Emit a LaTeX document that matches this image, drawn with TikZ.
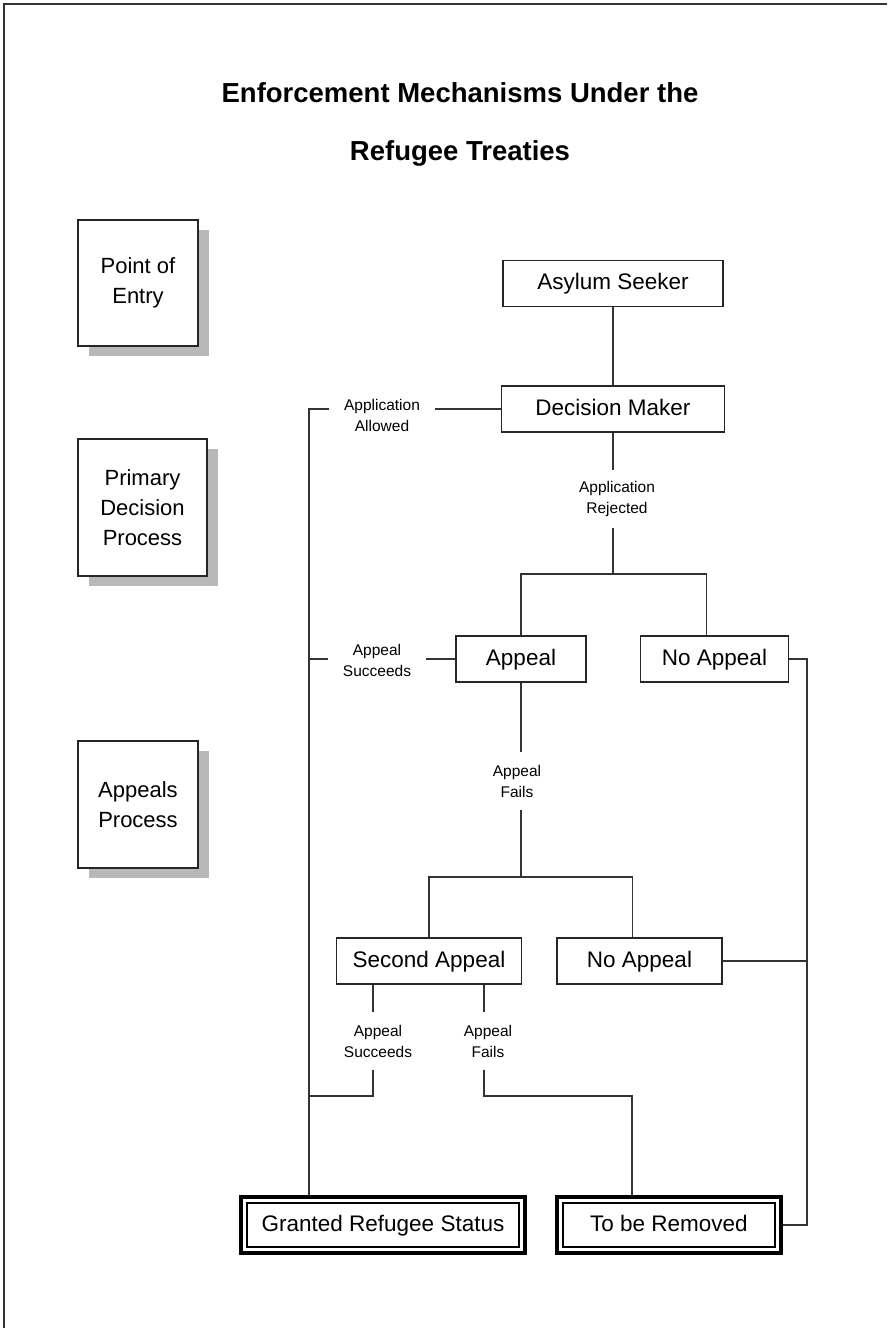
\documentclass[tikz,border=0pt]{standalone}
\usepackage{fontspec}
\setmainfont{Liberation Sans}
\usetikzlibrary{positioning,shadows}
\tikzset{x=1pt, y=-1pt,
  stage/.style={draw=black!85, line width=1.5pt, fill=white, align=center, inner sep=0pt,
    minimum width=120pt, minimum height=126pt, font=\fontsize{22}{30}\selectfont,
    drop shadow={shadow xshift=11pt, shadow yshift=-10pt, fill=black!28, opacity=1}},
  actor/.style={draw=black!85, line width=1.5pt, inner sep=0pt, minimum height=46pt,
    text height=16.5pt, text depth=4.5pt, font=\fontsize{22.5}{27}\selectfont},
  outcome/.style={draw=black, line width=4.5pt, inner sep=0pt, minimum height=56pt,
    text height=16.5pt, text depth=4.5pt, font=\fontsize{22.5}{27}\selectfont,
    path picture={\draw[line width=1.3pt] ([xshift=6pt,yshift=-6pt]path picture bounding box.north west)
      rectangle ([xshift=-6pt,yshift=6pt]path picture bounding box.south east);}},
  branch/.style={align=center, inner xsep=15pt, inner ysep=0pt, minimum height=57pt,
    font=\fontsize{15.5}{21}\selectfont},
  link/.style={draw=black!80, line width=1.6pt}}

\begin{document}
\begin{tikzpicture}
				\useasboundingbox (0,0) rectangle (887,1328);
				\draw[line width=2pt, black!80] (4,1328) -- (4,4) -- (887,4);

				% title
				\node[font=\bfseries\fontsize{27.5}{58}\selectfont, align=center] (title) at (460,124)
					{Enforcement Mechanisms Under the\\Refugee Treaties};

				% stages on the left
				\node[stage] (entry) at (138,283) {Point of\\Entry};
				\node[stage, minimum width=129pt, minimum height=137pt] (primary) at (142.5,507.5) {Primary\\Decision\\Process};
				\node[stage, minimum height=127pt] (appeals) at (138,804.5) {Appeals\\Process};

				% flow
				\node[actor, minimum width=220pt] (seeker) at (613,283.5) {Asylum Seeker};
				\node[actor, minimum width=223pt] (decision) at (613,409) {Decision Maker};
				\node[actor, minimum width=130pt] (appeal) at (521,659) {Appeal};
				\node[actor, minimum width=148pt] (noappeal) at (714.5,659) {No Appeal};
				\node[actor, minimum width=185pt] (second) at (429,961) {Second Appeal};
				\node[actor, minimum width=165pt] (noappealb) at (639.5,961) {No Appeal};
				\node[outcome, minimum width=284pt] (granted) at (383,1225) {Granted Refugee Status};
				\node[outcome, minimum width=224pt] (removed) at (669,1225) {To be Removed};

				\node[branch] (allowed) at (382,415) {Application\\Allowed};
				\node[branch] (rejected) at (617,499) {Application\\Rejected};
				\node[branch] (succeeds) at (377,660) {Appeal\\Succeeds};
				\node[branch] (fails) at (517,781) {Appeal\\Fails};
				\node[branch] (succeedsb) at (378,1041) {Appeal\\Succeeds};
				\node[branch] (failsb) at (488,1041) {Appeal\\Fails};

				\coordinate (leftbus) at (309,409);
				\coordinate (rightbus) at (807,659);
				\coordinate (splitA) at (613,574);
				\coordinate (splitB) at (521,877);
				\coordinate (legA) at (373,1096);
				\coordinate (legB) at (484,1096);

				\path[link]
					(seeker) -- (decision)
					(decision.west) -- (decision.west -| allowed.east)
					(decision.west -| allowed.west) -- (leftbus) -- (leftbus |- granted.north)
					(decision.south) -- (decision.south |- rejected.north)
					(decision.south |- rejected.south) -- (splitA)
					(splitA) -| (appeal.north)
					(splitA) -| ([xshift=-8pt]noappeal.north)
					(appeal.west) -- (appeal.west -| succeeds.east)
					(appeal.west -| succeeds.west) -- (appeal.west -| leftbus)
					(noappeal.east) -- (rightbus) |- (removed.east)
					(noappealb.east) -- (noappealb.east -| rightbus)
					(appeal.south) -- (appeal.south |- fails.north)
					(appeal.south |- fails.south) -- (splitB)
					(splitB) -| (second.north)
					(splitB) -| ([xshift=-7pt]noappealb.north)
					(second.south -| legA) -- (succeedsb.north -| legA)
					(succeedsb.south -| legA) -- (legA) -- (legA -| leftbus)
					(second.south -| legB) -- (failsb.north -| legB)
					(failsb.south -| legB) -- (legB) -| ([xshift=-37pt]removed.north);
			\end{tikzpicture}
\end{document}
